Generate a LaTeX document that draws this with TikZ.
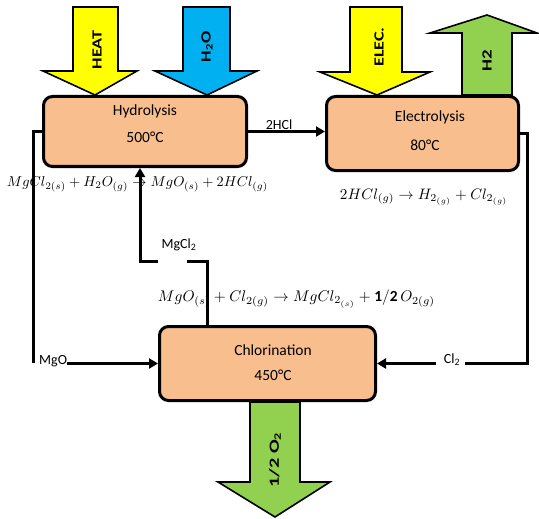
\documentclass[tikz,border=0pt]{standalone}
\usepackage{fontspec}
\setmainfont{Carlito}
\usepackage{amsmath}
\usepackage{graphicx}
\usetikzlibrary{arrows.meta}
\definecolor{peach}{HTML}{F8BE8E}
\definecolor{ayellow}{HTML}{FFFF00}
\definecolor{ablue}{HTML}{00B0F0}
\definecolor{agreen}{HTML}{92D050}
\begin{document}
\begin{tikzpicture}[x=1pt,y=-1pt,
  proc/.style={draw=black, line width=3pt, fill=peach, rounded corners=9pt, inner sep=0pt},
  blk/.style={draw=black, line width=1.6pt, line join=miter},
  conn/.style={line width=3pt},
  tipped/.style={-{Triangle[length=9pt,width=10pt]}},
  lbl/.style={font=\fontsize{14}{16}\selectfont, inner sep=0pt},
  ttl/.style={font=\fontsize{15.5}{18}\selectfont, inner sep=0pt},
  blbl/.style={font=\bfseries\fontsize{14}{16}\selectfont, rotate=90, inner sep=0pt},
  eq/.style={inner sep=0pt}]
\useasboundingbox (0,0) rectangle (539,519);

% block arrows
\draw[blk, fill=ayellow] (73,7) -- (118,7) -- (118,71) -- (137,71) -- (95,95) -- (43,71) -- (73,71) -- cycle;
\draw[blk, fill=ablue] (183,7) -- (230,7) -- (230,71) -- (257,71) -- (207,95) -- (155,71) -- (183,71) -- cycle;
\draw[blk, fill=ayellow] (350,7) -- (402,7) -- (402,72) -- (430,72) -- (377,95) -- (320,72) -- (350,72) -- cycle;
\draw[blk, fill=agreen] (462,95) -- (462,33) -- (430,33) -- (487,15) -- (537,33) -- (512,33) -- (512,95) -- cycle;
\draw[blk, fill=agreen] (250,402) -- (300,402) -- (300,482) -- (330,482) -- (275,517) -- (218,482) -- (250,482) -- cycle;

\node[blbl] (heat) at (97,50) {\scalebox{1.3}[1]{HEAT}};
\node[blbl] (h2o) at (207,47) {\scalebox{1.3}[1]{H\textsubscript{2}O}};
\node[blbl] (elecl) at (379,47) {\scalebox{1.3}[1]{ELEC.}};
\node[blbl] (h2l) at (487,61) {\scalebox{1.35}[1]{H2}};
\node[blbl] (o2l) at (275,460) {\scalebox{1.45}[1]{1/2 O\textsubscript{2}}};

% process boxes
\node[proc, minimum width=203pt, minimum height=70pt] (hyd) at (145,131.5) {};
\node[proc, minimum width=192pt, minimum height=74pt] (elec) at (422.5,133.5) {};
\node[proc, minimum width=216pt, minimum height=74pt] (chl) at (267.5,363.5) {};

\node[ttl] (hydt) at (145,111) {Hydrolysis};
\node[ttl] (hydc) at (145,137) {500°C};
\node[ttl] (elect) at (430,117) {Electrolysis};
\node[ttl] (elecc) at (425,145) {80°C};
\node[ttl] (chlt) at (273,350) {Chlorination};
\node[ttl] (chlc) at (273,375) {450°C};

% 2HCl
\draw[conn,tipped] (hyd.east) -- (hyd.east -| elec.west);
\node[lbl, anchor=base] (l2hcl) at (279,130) {2HCl};

% MgO loop
\coordinate (mgoA) at (33,363);
\draw[conn] (hyd.west) -- (hyd.west -| mgoA) -- (mgoA);
\node[lbl, anchor=base west] (mgo) at (39,364) {MgO};
\draw[conn,tipped] (mgo.east |- chl.west) -- (chl.west);

% Cl2 loop
\coordinate (clA) at (527,363.5);
\node[lbl] (cl2) at (452,360) {Cl\textsubscript{2}};
\draw[conn] (elec.east) -- (elec.east -| clA) -- (clA) -- ([xshift=5pt]cl2.east |- clA);
\draw[conn,tipped] ([xshift=-8pt]cl2.west |- clA) -- (chl.east);

% MgCl2 loop
\coordinate (mcA) at (207,261);
\coordinate (mcC) at (187,261);
\coordinate (mcD) at (158,261);
\coordinate (mcB) at (140,261);
\draw[conn] (chl.north -| mcA) -- (mcA) -- (mcC);
\node[lbl] (mgcl) at (179,245) {MgCl\textsubscript{2}};
\draw[conn,tipped] (mcD) -- (mcB) -- (mcB |- hyd.south);

% equations
\node[eq] (eq1) at (137.5,184) {\resizebox{261pt}{!}{$MgCl_{2(s)}+H_2O_{(g)}\rightarrow MgO_{(s)}+2HCl_{(g)}$}};
\node[eq] (eq2) at (424,197) {\resizebox{168pt}{!}{$2HCl_{(g)}\rightarrow H_{2_{(g)}}+Cl_{2_{(g)}}$}};
\node[eq] (eq3) at (296.5,299) {\resizebox{277pt}{!}{$MgO_{(s)}+Cl_{2(g)}\rightarrow MgCl_{2_{(s)}}+\mathbf{1/2}\,O_{2(g)}$}};
\end{tikzpicture}
\end{document}
